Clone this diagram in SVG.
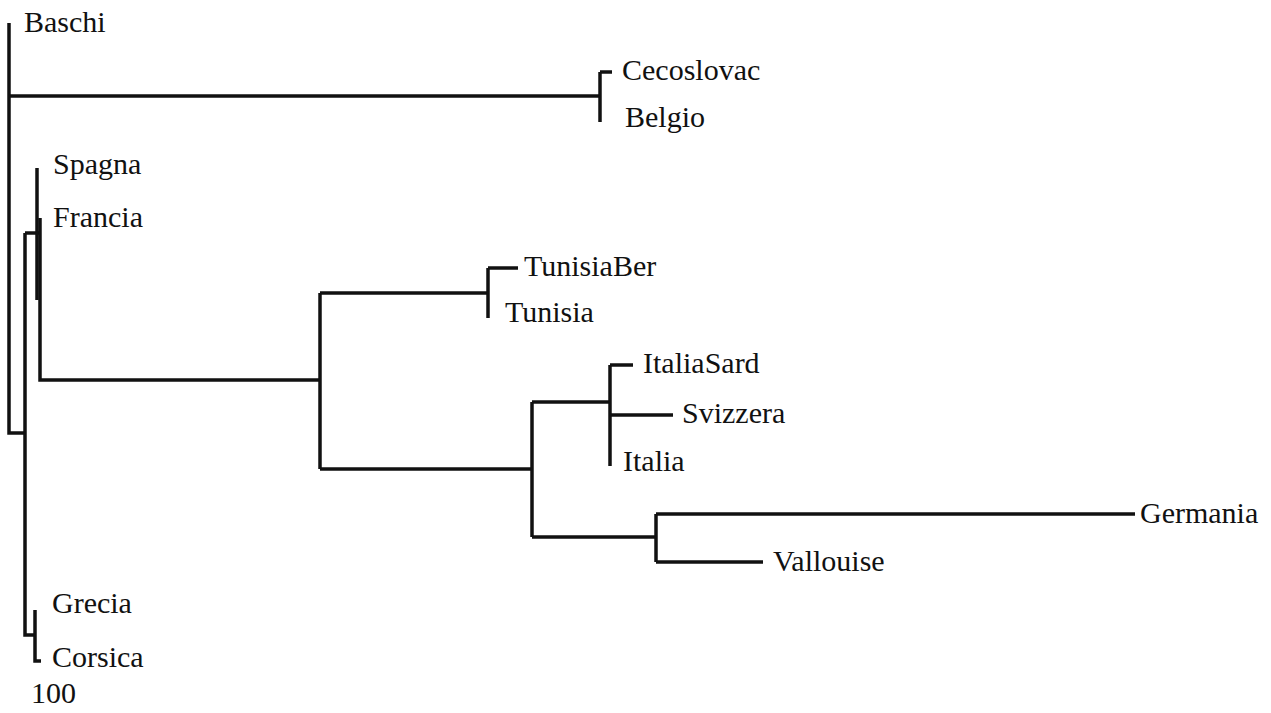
<svg xmlns="http://www.w3.org/2000/svg" width="1271" height="713" viewBox="0 0 1271 713">
  <style>
    .br { fill: none; stroke: #111111; stroke-width: 3.5; stroke-linejoin: miter; stroke-linecap: butt; }
    .lbl { font-family: "Liberation Serif", "Times New Roman", serif; font-size: 30px; fill: #111111; }
  </style>
  <rect width="1271" height="713" fill="#ffffff"/>

  <!-- tree branches -->
  <g id="connectors" class="br">
    <!-- root -->
    <path d="M9 23 V433 H25"/>
    <path d="M9 96 H600"/>
    <!-- Cecoslovac / Belgio -->
    <path d="M600 72 V122"/>
    <path d="M600 72 H612"/>
    <!-- inner clade -->
    <path d="M25 233 V635 H35"/>
    <path d="M25 233 H40"/>
    <path d="M37 168 V300"/>
    <path d="M40 218 V380 H320"/>
    <!-- Grecia / Corsica -->
    <path d="M35 610 V661 H41"/>
    <!-- Tunisia clade -->
    <path d="M320 293 V469"/>
    <path d="M320 293 H488"/>
    <path d="M488 268 V318"/>
    <path d="M488 268 H518"/>
    <!-- Italia clade -->
    <path d="M320 469 H532"/>
    <path d="M532 402 V537"/>
    <path d="M532 402 H610"/>
    <path d="M610 365 V466"/>
    <path d="M610 365 H633"/>
    <path d="M610 415 H673"/>
    <!-- Germania / Vallouise -->
    <path d="M532 537 H656"/>
    <path d="M656 514 V562"/>
    <path d="M656 514 H1135"/>
    <path d="M656 562 H763"/>
  </g>

  <g id="n-baschi"><text class="lbl" x="24" y="32">Baschi</text></g>
  <g id="n-cecoslovac"><text class="lbl" x="622" y="80">Cecoslovac</text></g>
  <g id="n-belgio"><text class="lbl" x="625" y="127">Belgio</text></g>
  <g id="n-spagna"><text class="lbl" x="53" y="174">Spagna</text></g>
  <g id="n-francia"><text class="lbl" x="53" y="227">Francia</text></g>
  <g id="n-tunisiaber"><text class="lbl" x="524" y="276">TunisiaBer</text></g>
  <g id="n-tunisia"><text class="lbl" x="505" y="322">Tunisia</text></g>
  <g id="n-italiasard"><text class="lbl" x="643" y="373">ItaliaSard</text></g>
  <g id="n-svizzera"><text class="lbl" x="682" y="423">Svizzera</text></g>
  <g id="n-italia"><text class="lbl" x="623" y="471">Italia</text></g>
  <g id="n-germania"><text class="lbl" x="1140" y="523">Germania</text></g>
  <g id="n-vallouise"><text class="lbl" x="773" y="571">Vallouise</text></g>
  <g id="n-grecia"><text class="lbl" x="52" y="613">Grecia</text></g>
  <g id="n-corsica"><text class="lbl" x="52" y="667">Corsica</text></g>
  <g id="n-scale"><text class="lbl" x="31" y="703">100</text></g>
</svg>
